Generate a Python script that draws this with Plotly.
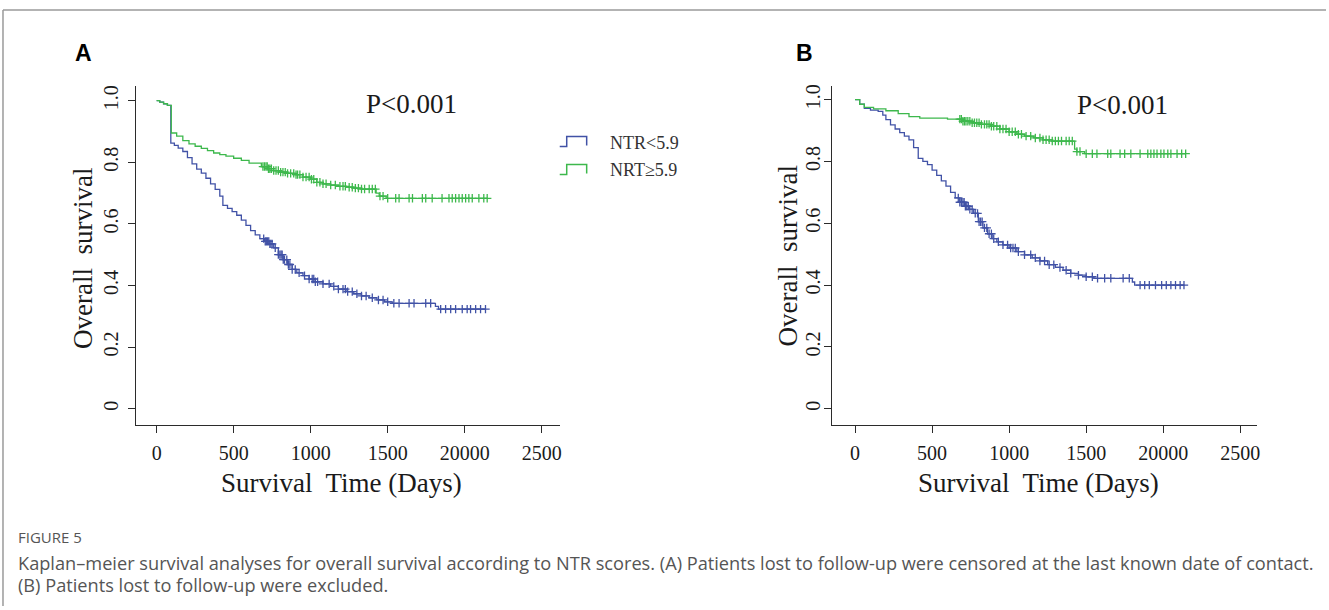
import bisect
import plotly.graph_objects as go

# ---------------- data ----------------
X_TICKS = [0, 500, 1000, 1500, 2000, 2500]
X_TICKTEXT = ["0", "500", "1000", "1500", "20000", "2500"]
Y_TICKS = [0, 0.2, 0.4, 0.6, 0.8, 1.0]
Y_TICKTEXT = ["0", "0.2", "0.4", "0.6", "0.8", "1.0"]

SERIES_NAMES = ["NTR<5.9", "NRT\u22655.9"]

# Panel A : NTR<5.9 (blue)
A_blue_t = [0, 20, 45, 70, 92, 115, 140, 170, 200, 230, 260, 290, 320, 350, 380, 410, 430,
            460, 490, 520, 550, 580, 610, 640, 670, 700, 730, 760, 790, 820, 850, 880, 910,
            950, 990, 1030, 1080, 1130, 1180, 1230, 1280, 1330, 1380, 1430, 1480, 1530,
            1810, 1830]
A_blue_s = [1.0, 0.995, 0.99, 0.985, 0.862, 0.855, 0.846, 0.835, 0.815, 0.795, 0.778, 0.765,
            0.748, 0.73, 0.712, 0.69, 0.66, 0.65, 0.64, 0.628, 0.612, 0.595, 0.578, 0.564,
            0.552, 0.543, 0.535, 0.522, 0.50, 0.484, 0.468, 0.452, 0.441, 0.432, 0.421,
            0.412, 0.405, 0.397, 0.388, 0.38, 0.373, 0.366, 0.36, 0.353, 0.347, 0.342,
            0.332, 0.323]
A_blue_cens = [695, 705, 712, 720, 728, 735, 742, 750, 770, 790, 800, 808, 815, 822, 830, 845,
               855, 865, 880, 900, 925, 960, 990, 1010, 1020, 1030, 1045, 1080, 1120, 1150,
               1180, 1210, 1225, 1240, 1270, 1300, 1330, 1360, 1400, 1440, 1470, 1500, 1540,
               1574, 1639, 1671, 1747, 1779, 1844, 1876, 1909, 1941, 1984, 2016, 2038, 2071,
               2103, 2135]

# Panel A : NRT>=5.9 (green)
A_green_t = [0, 20, 45, 70, 95, 130, 170, 210, 250, 290, 330, 370, 410, 450, 500, 550, 600,
             680, 720, 760, 800, 850, 900, 950, 1000, 1040, 1080, 1130, 1180, 1230, 1280,
             1330, 1425, 1445, 1490]
A_green_s = [1.0, 0.995, 0.99, 0.985, 0.895, 0.885, 0.87, 0.86, 0.852, 0.845, 0.838, 0.83,
             0.825, 0.82, 0.813, 0.806, 0.797, 0.786, 0.779, 0.773, 0.768, 0.764, 0.76,
             0.752, 0.745, 0.735, 0.73, 0.726, 0.722, 0.719, 0.716, 0.713, 0.70, 0.69, 0.683]
A_green_cens = [690, 700, 710, 718, 726, 735, 745, 760, 775, 790, 805, 820, 835, 850, 870,
                890, 905, 915, 930, 950, 970, 990, 1005, 1020, 1040, 1060, 1080, 1100, 1130,
                1160, 1190, 1210, 1225, 1250, 1270, 1290, 1310, 1330, 1350, 1380, 1400, 1420,
                1450, 1470, 1500, 1552, 1574, 1639, 1661, 1725, 1747, 1789, 1853, 1898, 1919,
                1941, 1963, 1984, 2006, 2027, 2049, 2092, 2124, 2146]

# Panel B : NTR<5.9 (blue)
B_blue_t = [0, 30, 60, 100, 150, 180, 200, 230, 260, 290, 320, 350, 380, 410, 440, 470, 500,
            530, 560, 590, 620, 650, 680, 710, 740, 770, 800, 830, 860, 890, 920, 960, 1000,
            1050, 1100, 1150, 1200, 1250, 1300, 1350, 1400, 1450, 1500, 1550, 1800, 1815]
B_blue_s = [1.0, 0.985, 0.972, 0.966, 0.962, 0.95, 0.935, 0.918, 0.905, 0.893, 0.882, 0.87,
            0.845, 0.81, 0.80, 0.79, 0.772, 0.755, 0.737, 0.72, 0.70, 0.682, 0.668, 0.655,
            0.645, 0.632, 0.605, 0.585, 0.566, 0.55, 0.54, 0.53, 0.52, 0.508, 0.498, 0.488,
            0.478, 0.466, 0.457, 0.448, 0.438, 0.432, 0.427, 0.422, 0.41, 0.40]
B_blue_cens = [670, 680, 690, 700, 708, 716, 725, 735, 745, 760, 780, 795, 805, 815, 825, 840,
               855, 870, 885, 900, 930, 960, 990, 1010, 1025, 1040, 1060, 1100, 1140, 1170,
               1200, 1230, 1260, 1290, 1330, 1370, 1400, 1450, 1500, 1540, 1574, 1620, 1660,
               1740, 1780, 1850, 1880, 1910, 1950, 1990, 2020, 2050, 2080, 2110, 2135]

# Panel B : NRT>=5.9 (green)
B_green_t = [0, 30, 60, 120, 200, 280, 350, 420, 600, 700, 760, 820, 880, 940, 1000, 1050,
             1100, 1160, 1220, 1280, 1425, 1440, 1490]
B_green_s = [1.0, 0.985, 0.975, 0.97, 0.964, 0.955, 0.945, 0.94, 0.937, 0.93, 0.925, 0.92,
             0.914, 0.905, 0.896, 0.888, 0.882, 0.876, 0.87, 0.866, 0.84, 0.832, 0.825]
B_green_cens = [680, 690, 700, 710, 720, 732, 745, 760, 775, 790, 805, 820, 840, 855, 870, 885,
                900, 920, 940, 960, 980, 1000, 1020, 1040, 1060, 1080, 1110, 1140, 1170, 1200,
                1220, 1240, 1260, 1280, 1300, 1320, 1340, 1370, 1390, 1410, 1440, 1460, 1500,
                1540, 1570, 1640, 1660, 1720, 1750, 1790, 1850, 1900, 1920, 1940, 1960, 1985,
                2005, 2030, 2050, 2090, 2120, 2146]

P_TEXT = "P<0.001"
X_TITLE = "Survival\u00a0 Time (Days)"
Y_TITLE = "Overall\u00a0 survival"
CAPTION_HEAD = "FIGURE 5"
CAPTION_1 = ("Kaplan\u2013meier survival analyses for overall survival according to NTR scores. "
             "(A) Patients lost to follow-up were censored at the last known date of contact.")
CAPTION_2 = "(B) Patients lost to follow-up were excluded."

# ---------------- styling ----------------
W, H = 1329, 610
BLUE = "#4152A6"
GREEN = "#3DB84C"
AX = "#2b2b2b"
SERIF = "Liberation Serif, Times New Roman, serif"


def px_x(p):
    return p / W


def px_y(p):
    return 1 - p / H


def surv_at(times, surv, t):
    i = bisect.bisect_right(times, t) - 1
    return surv[max(i, 0)]


fig = go.Figure()

panels = [
    dict(xa="x", ya="y", curves=[(A_blue_t, A_blue_s, A_blue_cens, BLUE),
                                 (A_green_t, A_green_s, A_green_cens, GREEN)]),
    dict(xa="x2", ya="y2", curves=[(B_blue_t, B_blue_s, B_blue_cens, BLUE),
                                   (B_green_t, B_green_s, B_green_cens, GREEN)]),
]

for pnl in panels:
    for (t, s, cens, col), name in zip(pnl["curves"], SERIES_NAMES):
        t_end = max(cens)
        fig.add_trace(go.Scatter(
            x=list(t) + [t_end], y=list(s) + [s[-1]], mode="lines",
            line=dict(color=col, width=1.3, shape="hv"),
            xaxis=pnl["xa"], yaxis=pnl["ya"], name=name, hoverinfo="skip"))
        fig.add_trace(go.Scatter(
            x=cens, y=[surv_at(t, s, c) for c in cens], mode="markers",
            marker=dict(symbol="cross-thin", size=6, color=col,
                        line=dict(color=col, width=1.3)),
            xaxis=pnl["xa"], yaxis=pnl["ya"], name=name + " censored", hoverinfo="skip"))

axis_common = dict(showgrid=False, zeroline=False, showline=True, linecolor=AX, linewidth=1.3,
                   ticks="outside", ticklen=7, tickwidth=1.2, tickcolor=AX,
                   tickfont=dict(family=SERIF, size=20, color="#1a1a1a"))

# Panel geometry (pixels): A x-axis 136..561, B x-axis 834..1260; y-axis 84..424
fig.update_layout(
    width=W, height=H, autosize=False,
    margin=dict(l=0, r=0, t=0, b=0),
    paper_bgcolor="white", plot_bgcolor="white",
    showlegend=False,
    xaxis=dict(domain=[px_x(136), px_x(561)], range=[-136, 2617], anchor="y",
               tickvals=X_TICKS, ticktext=X_TICKTEXT, ticklabelstandoff=3, **axis_common),
    yaxis=dict(domain=[px_y(424), px_y(84)], range=[-0.0518, 1.0485], anchor="x",
               tickvals=Y_TICKS, ticktext=Y_TICKTEXT, tickangle=-90, ticklabelstandoff=2,
               **axis_common),
    xaxis2=dict(domain=[px_x(834), px_x(1260)], range=[-149, 2610], anchor="y2",
                tickvals=X_TICKS, ticktext=X_TICKTEXT, ticklabelstandoff=3, **axis_common),
    yaxis2=dict(domain=[px_y(424), px_y(84)], range=[-0.0514, 1.0450], anchor="x2",
                tickvals=Y_TICKS, ticktext=Y_TICKTEXT, tickangle=-90, ticklabelstandoff=-4,
                **axis_common),
)

ann = []
# panel letters
ann.append(dict(text="<b>A</b>", x=px_x(84), y=px_y(51), font=dict(family="Liberation Sans, Arial", size=23, color="#000")))
ann.append(dict(text="<b>B</b>", x=px_x(806), y=px_y(51), font=dict(family="Liberation Sans, Arial", size=23, color="#000")))
# P values
ann.append(dict(text=P_TEXT, x=px_x(412), y=px_y(102), font=dict(family=SERIF, size=27, color="#1a1a1a")))
ann.append(dict(text=P_TEXT, x=px_x(1125), y=px_y(103), font=dict(family=SERIF, size=27, color="#1a1a1a")))
# axis titles
for cx in (342, 1041):
    ann.append(dict(text=X_TITLE, x=px_x(cx), y=px_y(483), font=dict(family=SERIF, size=27, color="#1a1a1a")))
for cx, cy in ((83, 257), (790, 255)):
    ann.append(dict(text=Y_TITLE, x=px_x(cx), y=px_y(cy), textangle=-90,
                    font=dict(family=SERIF, size=27, color="#1a1a1a")))
# legend labels
ann.append(dict(text=SERIES_NAMES[0], x=px_x(609), y=px_y(141), xanchor="left",
                font=dict(family=SERIF, size=18, color="#333")))
ann.append(dict(text=SERIES_NAMES[1], x=px_x(609), y=px_y(169), xanchor="left",
                font=dict(family=SERIF, size=18, color="#333")))
# caption
ann.append(dict(text=CAPTION_HEAD, x=px_x(16), y=px_y(537), xanchor="left",
                font=dict(family="Open Sans", size=15, color="#555")))
ann.append(dict(text=CAPTION_1, x=px_x(16), y=px_y(563), xanchor="left",
                font=dict(family="Open Sans", size=18.2, color="#555")))
ann.append(dict(text=CAPTION_2, x=px_x(16), y=px_y(585), xanchor="left",
                font=dict(family="Open Sans", size=18.2, color="#555")))

for a in ann:
    a.setdefault("xanchor", "center")
    a.setdefault("yanchor", "middle")
    a.update(xref="paper", yref="paper", showarrow=False)
fig.update_layout(annotations=ann)


def step_path(x0, yb, yt, xm, x1, yd):
    return (f"M {px_x(x0)} {px_y(yb)} L {px_x(xm)} {px_y(yb)} L {px_x(xm)} {px_y(yt)} "
            f"L {px_x(x1)} {px_y(yt)} L {px_x(x1)} {px_y(yd)}")


shapes = [
    # frame
    dict(type="line", x0=px_x(3), x1=1, y0=px_y(8), y1=px_y(8), line=dict(color="#9a9a9a", width=1.5)),
    dict(type="line", x0=px_x(3), x1=px_x(3), y0=px_y(8), y1=px_y(606), line=dict(color="#9a9a9a", width=1.5)),
    # legend keys
    dict(type="path", path=step_path(561, 145, 135, 568, 588, 144), line=dict(color=BLUE, width=1.5)),
    dict(type="path", path=step_path(561, 173, 163, 568, 588, 172), line=dict(color=GREEN, width=1.5)),
]
for sh in shapes:
    sh.update(xref="paper", yref="paper")
fig.update_layout(shapes=shapes)

fig.write_html("out.html", config={"displayModeBar": False},
               post_script="document.body.style.margin='0';document.body.style.overflow='hidden';")
